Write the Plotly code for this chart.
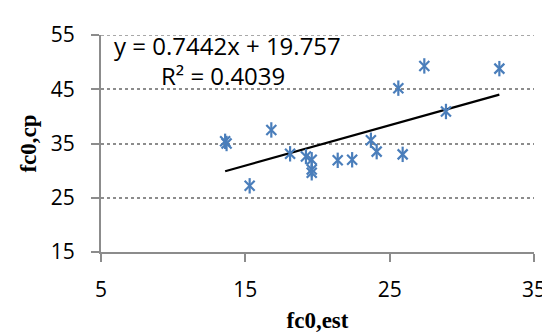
import plotly.graph_objects as go
import numpy as np

# Data
fc0_est = [13.6, 13.7, 15.3, 16.8, 18.1, 19.2, 19.6, 19.6, 19.6, 21.4, 22.4, 23.7, 24.1, 25.9, 25.6, 27.4, 28.9, 32.6]
fc0_cp  = [35.4, 35.0, 27.2, 37.5, 33.1, 32.6, 32.0, 30.2, 29.6, 31.9, 32.0, 35.6, 33.5, 33.0, 45.2, 49.3, 40.9, 48.8]

slope = 0.7442
intercept = 19.757
r2 = 0.4039

x_ticks = [5, 15, 25, 35]
y_ticks = [15, 25, 35, 45, 55]

blue = "#4a7ebb"
grey = "#8c8c8c"

W, H = 550, 333
ML, MR, MT, MB = 93, 16, 16, 87
PW, PH = W - ML - MR, H - MT - MB

fig = go.Figure()

# trendline
xt = np.array([min(fc0_est), max(fc0_est)])
fig.add_trace(go.Scatter(x=xt, y=slope * xt + intercept, mode="lines",
                         line=dict(color="black", width=2.2), hoverinfo="skip"))

# star markers (X + vertical bar)
fig.add_trace(go.Scatter(x=fc0_est, y=fc0_cp, mode="markers",
                         marker=dict(symbol="x-thin-open", size=10, color=blue,
                                     line=dict(color=blue, width=2.2))))
fig.add_trace(go.Scatter(x=fc0_est, y=fc0_cp, mode="markers",
                         marker=dict(symbol="line-ns-open", size=11, color=blue,
                                     line=dict(color=blue, width=2.2))))

tickfont = dict(family="Open Sans", size=21, color="black")
annfont = dict(family="Open Sans", size=24, color="black")
titlefont = dict(family="Liberation Serif", size=23, color="black")

fig.update_layout(
    width=W, height=H,
    margin=dict(l=ML, r=MR, t=MT, b=MB),
    plot_bgcolor="white", paper_bgcolor="white",
    showlegend=False,
    xaxis=dict(range=[5, 35], tickvals=x_ticks, ticktext=[str(v) for v in x_ticks],
               showgrid=False, zeroline=False,
               showline=True, linecolor=grey, linewidth=2,
               ticks="outside", ticklen=8, tickwidth=2, tickcolor=grey,
               tickfont=tickfont, ticklabelstandoff=10, ticklabeloverflow="allow",
               title=dict(text="<b>fc0,est</b>", font=titlefont, standoff=10)),
    yaxis=dict(range=[15, 55], tickvals=y_ticks, ticktext=[str(v) for v in y_ticks],
               showgrid=True, gridcolor=grey, griddash="dot", gridwidth=1.5,
               zeroline=False,
               showline=True, linecolor=grey, linewidth=2,
               ticks="outside", ticklen=8, tickwidth=2, tickcolor=grey,
               tickfont=tickfont, ticklabelstandoff=12, ticklabeloverflow="allow",
               title=dict(text="<b>fc0,cp</b>", font=titlefont, standoff=8)),
)

# top gridline (at the range edge)
fig.add_shape(type="line", xref="paper", yref="y", x0=0, x1=1, y0=y_ticks[-1], y1=y_ticks[-1],
              line=dict(color=grey, width=1.5, dash="dot"), layer="below")

fig.add_annotation(x=(222 - ML) / PW, y=(H - MB - 27) / PH,
                   xref="paper", yref="paper", showarrow=False, xanchor="center", yanchor="middle",
                   text=f"y = {slope}x + {intercept}", font=annfont)
fig.add_annotation(x=(217 - ML) / PW, y=(H - MB - 59) / PH,
                   xref="paper", yref="paper", showarrow=False, xanchor="center", yanchor="middle",
                   text=f"R² = {r2}", font=annfont)

fig.write_html("out.html")
